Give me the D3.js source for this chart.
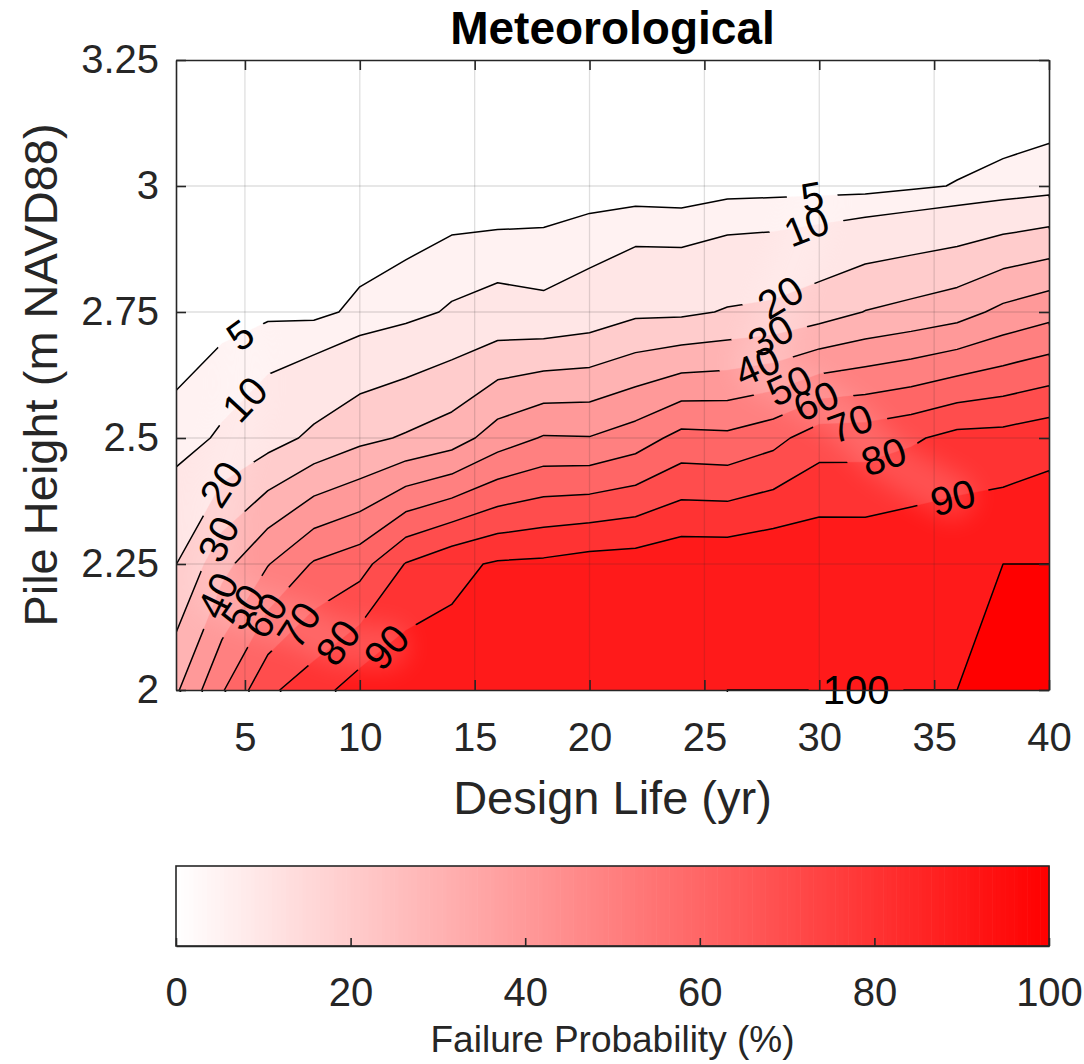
<!DOCTYPE html>
<html>
<head>
<meta charset="utf-8">
<title>Meteorological</title>
<script src="https://cdn.jsdelivr.net/npm/d3@7"></script>
<style>
  html, body { margin: 0; padding: 0; background: #ffffff; }
  svg { display: block; }
  text { font-family: "Liberation Sans", Arial, Helvetica, sans-serif; }
</style>
</head>
<body>
<svg id="chart" width="1084" height="1064"></svg>
<script>
// Grid on which the failure probability was evaluated
const designLife = [2, 4, 6, 8, 10, 12, 14, 16, 18, 20, 22, 24, 26, 28, 30, 32, 34, 36, 38, 40];
const pileHeight = [2.00, 2.25, 2.50, 2.75, 3.00, 3.25];

// Failure probability (%) at each pile height, one value per design life
const failAt200 = [38.5, 59, 78, 85.7, 95, 98.5, 95.5, 97, 98, 98.5, 99, 99.5, 100, 100, 100, 100, 100, 100, 100, 100];
const failAt225 = [19.8, 36.5, 49.5, 61, 66, 80.5, 87.4, 91.2, 92, 94.4, 95, 97.5, 97.4, 99.1, 98.6, 98.5, 99.5, 98, 100, 100];
const failAt250 = [7.06, 11, 16, 22, 27.5, 31, 35, 44.8, 50.8, 50.4, 55, 63.2, 62.4, 66.8, 75.5, 75.6, 78.5, 83.2, 83.6, 86.5];
const failAt275 = [1.6, 3, 4.1, 3.8, 6, 7.9, 10.8, 12.75, 11.7, 14, 18.1, 18.2, 20.7, 21.8, 25.3, 30.3, 33, 36, 42.5, 46.7];
const failAt300 = [0.8, 1.2, 1.8, 1.7, 1.0, 0.9, 1.3, 0.9, 1.7, 2.5, 2.5, 2.2, 3.2, 3.3, 3.3, 3.3, 4.2, 5.25, 6, 7.2];
const failAt325 = [0.3, 0.5, 0.7, 0.7, 0.4, 0.3, 0.4, 0.3, 0.5, 0.8, 0.8, 0.7, 1.0, 1.0, 1.0, 1.0, 1.2, 0, 1.4, 0.7];

const contourLevels = [5, 10, 20, 30, 40, 50, 60, 70, 80, 90, 100];
const xTickValues = [5, 10, 15, 20, 25, 30, 35, 40];
const yTickValues = [2, 2.25, 2.5, 2.75, 3, 3.25];
const yTickLabels = ["2", "2.25", "2.5", "2.75", "3", "3.25"];
const barTickValues = [0, 20, 40, 60, 80, 100];

// Inline contour labels: level, spot (design life, pile height), text tilt in degrees
const labelSpots = [
  { level: 5,   at: [4.83, 2.701],  tilt: -36, group: "left" },
  { level: 10,  at: [5.04, 2.575],  tilt: -47, group: "left" },
  { level: 20,  at: [4.19, 2.403],  tilt: -57, group: "left" },
  { level: 30,  at: [3.83, 2.300],  tilt: -64, group: "left" },
  { level: 40,  at: [3.70, 2.190],  tilt: -64, group: "left" },
  { level: 50,  at: [4.74, 2.170],  tilt: -56, group: "left" },
  { level: 60,  at: [5.83, 2.150],  tilt: -55, group: "left" },
  { level: 70,  at: [7.43, 2.125],  tilt: -57, group: "left" },
  { level: 80,  at: [9.00, 2.097],  tilt: -53, group: "left" },
  { level: 90,  at: [11.26, 2.080], tilt: -47, group: "left" },
  { level: 5,   at: [29.7, 2.972],  tilt: -10, group: "right" },
  { level: 10,  at: [29.46, 2.915], tilt: -22, group: "right" },
  { level: 20,  at: [28.3, 2.780],  tilt: -31, group: "right" },
  { level: 30,  at: [27.87, 2.705], tilt: -29, group: "right" },
  { level: 40,  at: [27.3, 2.641],  tilt: -24, group: "right" },
  { level: 50,  at: [28.67, 2.608], tilt: -25, group: "right" },
  { level: 60,  at: [29.9, 2.569],  tilt: -24, group: "right" },
  { level: 70,  at: [31.35, 2.526], tilt: -20, group: "right" },
  { level: 80,  at: [32.74, 2.472], tilt: -19, group: "right" },
  { level: 90,  at: [35.77, 2.390], tilt: -15, group: "right" },
  { level: 100, at: [31.6, 2.000],  tilt: 0,   group: "edge" }
];

const W = 1084, H = 1064;
const plot = { left: 176, right: 1049, top: 60, bottom: 690 };
const bar = { left: 176, right: 1049, top: 866, bottom: 946 };
const axisColor = "#262626";

const svg = d3.select("#chart");
const x = d3.scaleLinear().domain([2, 40]).range([plot.left, plot.right]);
const y = d3.scaleLinear().domain([2, 3.25]).range([plot.bottom, plot.top]);
const color = d3.scaleLinear().domain([0, 100]).range(["#ffffff", "#ff0000"]);

// ---- contour geometry ----
const nx = designLife.length, ny = pileHeight.length;
const values = [failAt200, failAt225, failAt250, failAt275, failAt300, failAt325].flat();
const colX = d3.scaleLinear().domain([0.5, nx - 0.5]).range(d3.extent(designLife));
const rowY = d3.scaleLinear().domain([0.5, ny - 0.5]).range(d3.extent(pileHeight));
const toPx = p => [x(colX(p[0])), y(rowY(p[1]))];

const bands = d3.contours().size([nx, ny]).thresholds(contourLevels)(values)
  .map(b => ({ value: b.value, rings: b.coordinates.flatMap(poly => poly.map(r => r.map(toPx))) }));
const ringsToPath = rings => rings.map(r =>
  "M" + r.map(p => p[0].toFixed(2) + "," + p[1].toFixed(2)).join("L") + "Z").join("");

const defs = svg.append("defs");
defs.append("clipPath").attr("id", "plotClip").append("rect")
  .attr("x", plot.left).attr("y", plot.top)
  .attr("width", plot.right - plot.left).attr("height", plot.bottom - plot.top);
defs.append("clipPath").attr("id", "lineClip").append("rect")
  .attr("x", plot.left).attr("y", plot.top)
  .attr("width", plot.right - plot.left).attr("height", plot.bottom - plot.top + 2);
defs.append("filter").attr("id", "soft")
  .attr("x", "-20%").attr("y", "-20%").attr("width", "140%").attr("height", "140%")
  .append("feGaussianBlur").attr("stdDeviation", 12);
const gapMask = defs.append("mask").attr("id", "labelGaps")
  .attr("maskUnits", "userSpaceOnUse")
  .attr("x", 0).attr("y", 0).attr("width", W).attr("height", H);
gapMask.append("rect").attr("x", 0).attr("y", 0).attr("width", W).attr("height", H).attr("fill", "#fff");

// filled bands
const fills = svg.append("g").attr("clip-path", "url(#plotClip)");
fills.append("rect")
  .attr("x", plot.left).attr("y", plot.top)
  .attr("width", plot.right - plot.left).attr("height", plot.bottom - plot.top)
  .attr("fill", color(0));
fills.selectAll("path").data(bands).join("path")
  .attr("d", d => ringsToPath(d.rings))
  .attr("fill", d => color(d.value))
  .attr("fill-rule", "evenodd")
  .attr("stroke", d => color(d.value))
  .attr("stroke-width", 0.4);

// label positions snapped onto their own contour
function nearestOnRings(rings, px, py) {
  let best = null;
  rings.forEach(r => {
    for (let k = 0; k < r.length - 1; k++) {
      const [ax, ay] = r[k], [bx, by] = r[k + 1];
      const dx = bx - ax, dy = by - ay, L2 = dx * dx + dy * dy;
      if (L2 < 1e-6) continue;
      let t = ((px - ax) * dx + (py - ay) * dy) / L2;
      t = Math.max(0, Math.min(1, t));
      const qx = ax + t * dx, qy = ay + t * dy;
      const d = (qx - px) ** 2 + (qy - py) ** 2;
      if (!best || d < best.d) best = { d, x: qx, y: qy };
    }
  });
  return best;
}
const placed = labelSpots.map(s => {
  const band = bands.find(b => b.value === s.level);
  const p = nearestOnRings(band.rings, x(s.at[0]), y(s.at[1]));
  return { ...s, px: p.x, py: p.y };
});

// faint light streak that runs along each chain of labels
const streak = fills.append("g").attr("filter", "url(#soft)").attr("opacity", 0.15);
["left", "right"].forEach(g => {
  const pts = placed.filter(p => p.group === g).map(p => [p.px, p.py]);
  streak.append("path")
    .attr("d", d3.line().curve(d3.curveCatmullRom)(pts))
    .attr("fill", "none").attr("stroke", "#fff")
    .attr("stroke-width", 44).attr("stroke-linecap", "round").attr("stroke-linejoin", "round");
});

// grid
const gridG = svg.append("g").attr("stroke", "rgba(38,38,38,0.15)").attr("stroke-width", 1.3);
gridG.selectAll("line.gx").data(xTickValues.filter(v => v < 40)).join("line")
  .attr("x1", d => x(d)).attr("x2", d => x(d)).attr("y1", plot.top).attr("y2", plot.bottom);
gridG.selectAll("line.gy").data(yTickValues.filter(v => v > 2 && v < 3.25)).join("line")
  .attr("y1", d => y(d)).attr("y2", d => y(d)).attr("x1", plot.left).attr("x2", plot.right);

// contour lines, broken where labels sit
const lines = svg.append("g").attr("clip-path", "url(#lineClip)")
  .append("g").attr("mask", "url(#labelGaps)");
lines.selectAll("path").data(bands).join("path")
  .attr("d", d => ringsToPath(d.rings))
  .attr("fill", "none")
  .attr("stroke", "#000")
  .attr("stroke-width", 1.5)
  .attr("stroke-linejoin", "round");

const labelG = svg.append("g");
placed.forEach(s => {
  const tf = `translate(${s.px.toFixed(2)},${s.py.toFixed(2)}) rotate(${s.tilt})`;
  const t = labelG.append("text").attr("transform", tf)
    .attr("text-anchor", "middle").attr("dy", "0.36em")
    .attr("font-size", 40).attr("fill", "#000").text(s.level);
  const w = t.node().getComputedTextLength();
  gapMask.append("rect").attr("transform", tf)
    .attr("x", -w / 2 - 14).attr("y", -16).attr("width", w + 28).attr("height", 32)
    .attr("fill", "#000");
});

// axes
function styleAxis(g) {
  g.selectAll("path.domain").attr("stroke", axisColor).attr("stroke-width", 1.6);
  g.selectAll(".tick line").attr("stroke", axisColor).attr("stroke-width", 1.6);
  g.selectAll(".tick text").attr("fill", axisColor).attr("font-size", 40)
    .attr("font-family", '"Liberation Sans", Arial, Helvetica, sans-serif');
}
svg.append("g").attr("transform", `translate(0,${plot.bottom})`)
  .call(d3.axisBottom(x).tickValues(xTickValues).tickSizeInner(-10).tickSizeOuter(0).tickPadding(33))
  .call(styleAxis);
svg.append("g").attr("transform", `translate(0,${plot.top})`)
  .call(d3.axisTop(x).tickValues(xTickValues).tickSizeInner(-10).tickSizeOuter(0).tickFormat(""))
  .call(styleAxis);
svg.append("g").attr("transform", `translate(${plot.left},0)`)
  .call(d3.axisLeft(y).tickValues(yTickValues).tickSizeInner(-10).tickSizeOuter(0).tickPadding(17)
    .tickFormat((d, i) => yTickLabels[i]))
  .call(styleAxis);
svg.append("g").attr("transform", `translate(${plot.right},0)`)
  .call(d3.axisRight(y).tickValues(yTickValues).tickSizeInner(-10).tickSizeOuter(0).tickFormat(""))
  .call(styleAxis);

// titles
svg.append("text").attr("x", (plot.left + plot.right) / 2).attr("y", 44)
  .attr("text-anchor", "middle").attr("font-size", 46).attr("font-weight", "bold")
  .attr("fill", "#000").text("Meteorological");
svg.append("text").attr("x", (plot.left + plot.right) / 2).attr("y", 814)
  .attr("text-anchor", "middle").attr("font-size", 47).attr("fill", axisColor)
  .text("Design Life (yr)");
svg.append("text").attr("transform", `translate(57,${(plot.top + plot.bottom) / 2}) rotate(-90)`)
  .attr("text-anchor", "middle").attr("font-size", 47).attr("fill", axisColor)
  .text("Pile Height (m NAVD88)");

// colorbar
const cb = d3.scaleLinear().domain([0, 100]).range([bar.left, bar.right]);
const steps = d3.range(0, 100, 0.5);
svg.append("g").selectAll("rect").data(steps).join("rect")
  .attr("x", d => cb(d)).attr("y", bar.top)
  .attr("width", cb(0.5) - cb(0) + 0.6).attr("height", bar.bottom - bar.top)
  .attr("fill", d => color(d + 0.25));
svg.append("rect").attr("x", bar.left).attr("y", bar.top)
  .attr("width", bar.right - bar.left).attr("height", bar.bottom - bar.top)
  .attr("fill", "none").attr("stroke", axisColor).attr("stroke-width", 1.6);
svg.append("g").attr("transform", `translate(0,${bar.bottom})`)
  .call(d3.axisBottom(cb).tickValues(barTickValues).tickSizeInner(-8).tickSizeOuter(0).tickPadding(32))
  .call(styleAxis);
svg.append("text").attr("x", (bar.left + bar.right) / 2).attr("y", 1052)
  .attr("text-anchor", "middle").attr("font-size", 37).attr("fill", axisColor)
  .text("Failure Probability (%)");
</script>
</body>
</html>
